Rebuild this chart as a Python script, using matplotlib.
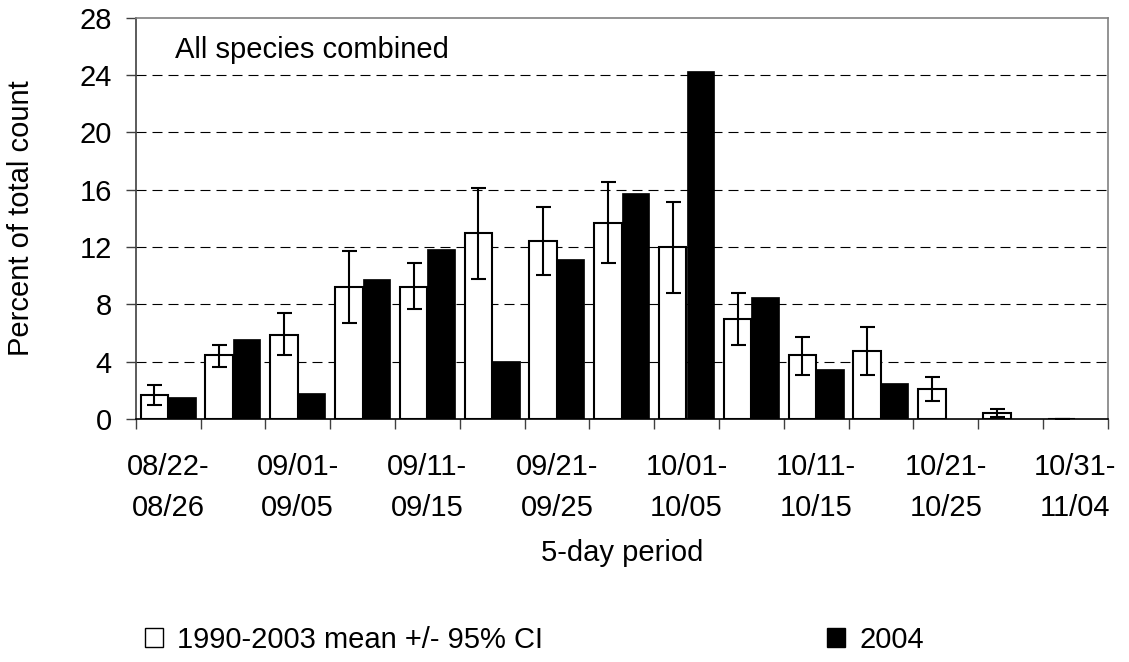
import numpy as np
import matplotlib
matplotlib.use("Agg")
import matplotlib.pyplot as plt
from matplotlib.patches import Patch

plt.rcParams['font.family'] = ['Liberation Sans', 'DejaVu Sans']

# 5-day periods and counts (percent of season total)
periods = ["08/22-08/26", "08/27-08/31", "09/01-09/05", "09/06-09/10",
           "09/11-09/15", "09/16-09/20", "09/21-09/25", "09/26-09/30",
           "10/01-10/05", "10/06-10/10", "10/11-10/15", "10/16-10/20",
           "10/21-10/25", "10/26-10/30", "10/31-11/04"]
mean_9003 = [1.67, 4.47, 5.86, 9.21, 9.21, 12.96, 12.42, 13.65, 11.98,
             6.98, 4.44, 4.75, 2.11, 0.42, 0.01]
ci_low = [0.98, 3.63, 4.44, 6.70, 7.65, 9.75, 10.03, 10.86, 8.77,
          5.16, 3.05, 3.05, 1.26, 0.12, 0.0]
ci_high = [2.37, 5.16, 7.37, 11.70, 10.86, 16.14, 14.77, 16.56, 15.17,
           8.79, 5.70, 6.40, 2.93, 0.72, 0.03]
yr_2004 = [1.56, 5.60, 1.84, 9.77, 11.88, 4.07, 11.19, 15.79, 24.28,
           8.54, 3.51, 2.53, 0.0, 0.0, 0.0]
yticks = list(range(0, 29, 4))

fs = 21
x = np.arange(len(periods))
w = 0.425
mean_arr = np.array(mean_9003)
yerr = [mean_arr - np.array(ci_low), np.array(ci_high) - mean_arr]

fig = plt.figure(figsize=(11.29, 6.62), dpi=100)
ax = fig.add_axes([135.7 / 1129, 1 - 419 / 662, 972 / 1129, 401.3 / 662])

ax.bar(x - w / 2, mean_9003, width=w, color='white', edgecolor='black',
       linewidth=1.5, zorder=2)
ax.bar(x + w / 2, yr_2004, width=w, color='black', edgecolor='black',
       linewidth=0.5, zorder=2)
ax.errorbar(x - w / 2, mean_9003, yerr=yerr, fmt='none', ecolor='black',
            elinewidth=1.5, capsize=5.4, capthick=1.5, zorder=3)

ax.set_xlim(-0.5, len(periods) - 0.5)
ax.set_ylim(0, 28)
ax.set_yticks(yticks)
ax.set_yticklabels([str(v) for v in yticks], fontsize=fs)

# labels on every other period, tick marks on period boundaries
ax.set_xticks(x[::2])
ax.set_xticklabels([p.replace("-", "-\n") for p in periods[::2]],
                   fontsize=fs, linespacing=1.59)
ax.tick_params(axis='x', which='major', length=0, pad=24.5)
ax.set_xticks(np.arange(-0.5, len(periods)), minor=True)
ax.tick_params(axis='x', which='minor', length=7.2, width=1.0,
               color='#404040', direction='out')
ax.tick_params(axis='y', length=7.2, width=1.0, color='#404040',
               direction='out', pad=10)

for v in yticks[1:-1]:
    ax.axhline(v, color='black', linewidth=0.8, linestyle=(0, (9, 5.4)),
               zorder=1)

ax.spines['left'].set_color('#404040')
ax.spines['bottom'].set_color('black')
ax.spines['top'].set_color('#808080')
ax.spines['right'].set_color('#808080')
for s in ax.spines.values():
    s.set_linewidth(1.2)

ax.text(0.04, 0.955, "All species combined", transform=ax.transAxes,
        fontsize=fs, va='top', ha='left')

ax.set_ylabel("Percent of total count", fontsize=fs, labelpad=32)
ax.set_xlabel("5-day period", fontsize=fs, labelpad=12)

handles = [Patch(facecolor='white', edgecolor='black', linewidth=1.0),
           Patch(facecolor='black', edgecolor='black')]
fig.legend(handles, ["1990-2003 mean +/- 95% CI", "2004"], ncol=2,
           loc='center left', bbox_to_anchor=(145 / 1129, 1 - 640 / 662),
           frameon=False, fontsize=fs, handlelength=0.6, handleheight=0.6,
           handletextpad=0.5, columnspacing=9.75, borderpad=0,
           borderaxespad=0)

fig.savefig("out.png", dpi=100)
